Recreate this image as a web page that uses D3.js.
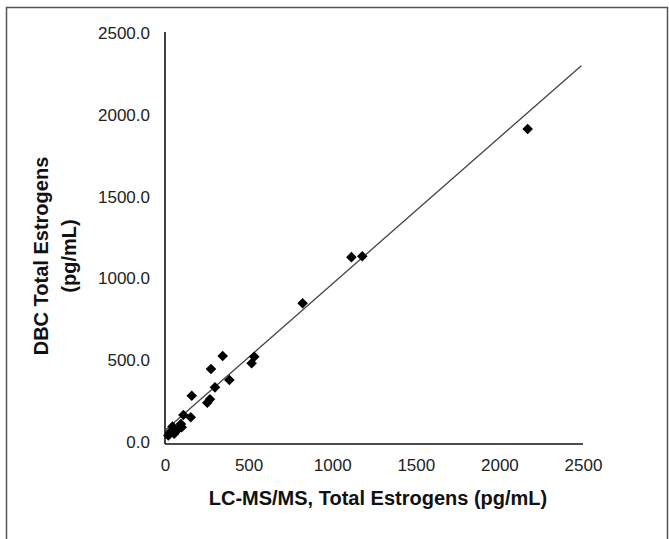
<!DOCTYPE html>
<html>
<head>
<meta charset="utf-8">
<script src="https://cdn.jsdelivr.net/npm/d3@7"></script>
<style>
  body { margin: 0; background: #fff; }
  svg { display: block; font-family: "Liberation Sans", Arial, sans-serif; }
  .tick-label { font-size: 17px; fill: #222; }
  .title { font-size: 20px; font-weight: bold; fill: #111; }
</style>
</head>
<body>
<svg id="chart" width="669" height="539"></svg>
<script>
// LC-MS/MS total estrogens (pg/mL) vs DBC total estrogens (pg/mL)
const lcms = [20, 30, 45, 55, 80, 95, 100, 110, 154, 160, 253, 269, 275, 299, 345, 385, 518, 534, 823, 1115, 1180, 2169];
const dbc  = [40, 60, 95, 50, 80, 110, 90, 165, 151, 283, 240, 261, 446, 334, 526, 379, 481, 521, 848, 1130, 1135, 1913];

const xTicks = [0, 500, 1000, 1500, 2000, 2500];
const yTicks = [0, 500, 1000, 1500, 2000, 2500];

// fitted line, endpoints
const fitX = [0, 2490];
const fitY = [70, 2300];

const points = lcms.map((x, i) => ({x: x, y: dbc[i]}));

const svg = d3.select("#chart");

// frame around the figure
svg.append("path")
    .attr("d", "M6.5,539 V7.5 H667.5 V539")
    .attr("fill", "none")
    .attr("stroke", "#555")
    .attr("stroke-width", 1.5);

const xScale = d3.scaleLinear().domain([0, 2500]).range([165, 583]);
const yScale = d3.scaleLinear().domain([0, 2500]).range([442, 33]);

// axes, no tick marks
const xAxis = svg.append("g")
    .attr("transform", `translate(0,444)`)
    .call(d3.axisBottom(xScale).tickValues(xTicks).tickSize(0).tickPadding(15).tickFormat(d3.format("d")));
const yAxis = svg.append("g")
    .attr("transform", `translate(165,0)`)
    .call(d3.axisLeft(yScale).tickValues(yTicks).tickSize(0).tickPadding(15).tickFormat(d3.format(".1f")));

[xAxis, yAxis].forEach(g => {
    g.select(".domain").attr("stroke", "#111").attr("stroke-width", 1.6);
    g.selectAll("text").attr("class", "tick-label").attr("font-family", null).attr("font-size", null);
});
yAxis.select(".domain").attr("d", "M0,32V444");
xAxis.select(".domain").attr("d", "M165,0H583");

// regression line
svg.append("line")
    .attr("x1", xScale(fitX[0])).attr("y1", yScale(fitY[0]))
    .attr("x2", xScale(fitX[1])).attr("y2", yScale(fitY[1]))
    .attr("stroke", "#444")
    .attr("stroke-width", 1.3);

// diamond markers
const diamond = d3.symbol().type(d3.symbolSquare).size(56);
svg.selectAll(".pt")
    .data(points)
    .join("path")
    .attr("class", "pt")
    .attr("d", diamond)
    .attr("transform", d => `translate(${xScale(d.x)},${yScale(d.y)}) rotate(45)`)
    .attr("fill", "#000");

// axis titles
svg.append("text")
    .attr("class", "title")
    .attr("x", 378)
    .attr("y", 505)
    .attr("text-anchor", "middle")
    .text("LC-MS/MS, Total Estrogens (pg/mL)");

const yTitle = svg.append("text")
    .attr("class", "title")
    .attr("transform", "translate(48,256) rotate(-90)")
    .attr("text-anchor", "middle");
yTitle.append("tspan").attr("x", 0).attr("y", 0).text("DBC Total Estrogens");
yTitle.append("tspan").attr("x", 0).attr("y", 28).text("(pg/mL)");
</script>
</body>
</html>
